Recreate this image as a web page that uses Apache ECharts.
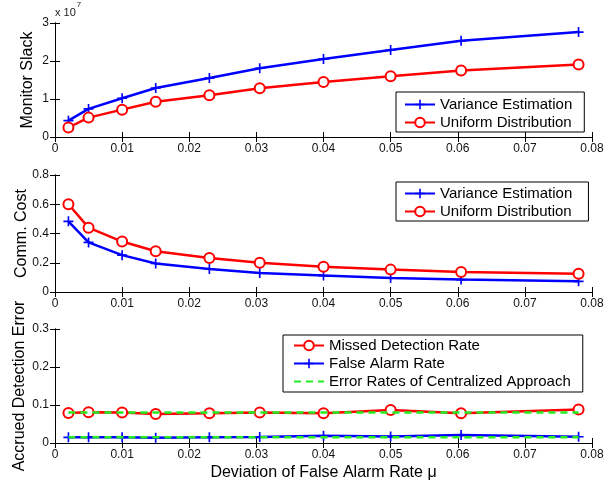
<!DOCTYPE html>
<html><head><meta charset="utf-8">
<script src="https://cdn.jsdelivr.net/npm/echarts@6/dist/echarts.min.js"></script>
<style>html,body{margin:0;padding:0;background:#fff}#c{width:613px;height:482px}</style>
</head><body><div id="c"></div>
<script>
const xVals = [0.002, 0.005, 0.010, 0.015, 0.023, 0.0305, 0.040, 0.050, 0.0605, 0.078];
// Monitor slack in units of 1e7
const slackVariance = [0.43, 0.74, 1.02, 1.29, 1.55, 1.81, 2.05, 2.29, 2.53, 2.76];
const slackUniform  = [0.25, 0.51, 0.72, 0.93, 1.10, 1.28, 1.45, 1.60, 1.75, 1.91];
const costVariance  = [0.483, 0.339, 0.252, 0.195, 0.158, 0.130, 0.112, 0.096, 0.085, 0.073];
const costUniform   = [0.600, 0.440, 0.345, 0.279, 0.233, 0.200, 0.172, 0.153, 0.137, 0.124];
const missedRate    = [0.079, 0.081, 0.080, 0.0765, 0.078, 0.080, 0.078, 0.087, 0.078, 0.088];
const falseAlarm    = [0.015, 0.015, 0.015, 0.014, 0.015, 0.016, 0.019, 0.017, 0.021, 0.0165];
const centralMissed = [0.080, 0.080, 0.080, 0.080, 0.080, 0.080, 0.080, 0.080, 0.080, 0.080];
const centralFalse  = [0.015, 0.015, 0.015, 0.015, 0.015, 0.015, 0.015, 0.015, 0.015, 0.015];
const xTicks = ['0','0.01','0.02','0.03','0.04','0.05','0.06','0.07','0.08'];

const FONT = '"Liberation Sans", Arial, sans-serif';
const BLUE = '#0000ff', RED = '#ff0000', GREEN = '#22ee22';
const PLUS = 'path://M5,0H7V12H5Z M0,5H12V7H0Z';
const pairs = ys => xVals.map((x, i) => [x, ys[i]]);

const grids = [
  {left: 55, right: 21, top: 23, height: 114},
  {left: 55, right: 21, top: 175, height: 117},
  {left: 55, right: 21, top: 329, height: 117}
];
const yCfg = [
  {min: 0, max: 3, interval: 1, name: 'Monitor Slack', gap: 19, fmt: v => String(v)},
  {min: 0, max: 0.8, interval: 0.2, name: 'Comm. Cost', gap: 25, fmt: v => v === 0 ? '0' : v.toFixed(1)},
  {min: 0, max: 0.3, interval: 0.1, name: 'Accrued Detection Error', gap: 27, fmt: v => v === 0 ? '0' : v.toFixed(1)}
];
const tick = {show: true, inside: true, length: 5, lineStyle: {color: '#000', width: 1}};
const aLine = {show: true, lineStyle: {color: '#000', width: 1}};
const xAxis = [], yAxis = [];
grids.forEach((g, i) => {
  xAxis.push({type: 'value', gridIndex: i, min: 0, max: 0.08, interval: 0.01, position: 'bottom',
    axisLine: aLine, axisTick: tick, splitLine: {show: false},
    axisLabel: {color: '#111', fontSize: 12, fontFamily: FONT, margin: 6,
      formatter: v => xTicks[Math.round(v * 100)]},
    name: i === 2 ? 'Deviation of False Alarm Rate μ' : '', nameLocation: 'middle', nameGap: 22,
    nameMoveOverlap: false,
    nameTextStyle: {color: '#000', fontSize: 16, fontFamily: FONT}});
  xAxis.push({type: 'value', gridIndex: i, min: 0, max: 0.08, interval: 0.01, position: 'top',
    axisLine: aLine, axisTick: tick, axisLabel: {show: false}, splitLine: {show: false}});
  const c = yCfg[i];
  yAxis.push({type: 'value', gridIndex: i, min: c.min, max: c.max, interval: c.interval, position: 'left',
    axisLine: aLine, axisTick: tick, splitLine: {show: false},
    axisLabel: {color: '#111', fontSize: 12, fontFamily: FONT, margin: 6, formatter: c.fmt},
    name: c.name, nameLocation: 'middle', nameGap: c.gap, nameMoveOverlap: false,
    nameTextStyle: {color: '#000', fontSize: 16, fontFamily: FONT}});
  yAxis.push({type: 'value', gridIndex: i, min: c.min, max: c.max, interval: c.interval, position: 'right',
    axisLine: aLine, axisTick: tick, axisLabel: {show: false}, splitLine: {show: false}});
});

function lineSeries(name, data, gi, color, kind) {
  const s = {type: 'line', name, data: pairs(data), xAxisIndex: gi * 2, yAxisIndex: gi * 2,
    lineStyle: {color, width: 2.5}, itemStyle: {color}, animation: false, z: 2};
  if (kind === 'plus') {
    s.symbol = PLUS; s.symbolSize = 10; s.itemStyle = {color, borderWidth: 0};
  } else if (kind === 'circle') {
    s.symbol = 'emptyCircle'; s.symbolSize = 10; s.itemStyle = {color, borderColor: color, borderWidth: 2};
  } else {
    s.symbol = 'none'; s.lineStyle = {color, width: 2.5, type: [7, 5]}; s.z = 3;
    s.itemStyle = {color: 'rgba(0,0,0,0)', opacity: 0};
  }
  return s;
}

const legendBase = {orient: 'vertical', backgroundColor: '#fff', borderColor: '#000', borderWidth: 1,
  itemWidth: 30, itemHeight: 12, itemGap: 3,
  textStyle: {color: '#000', fontSize: 15, fontFamily: FONT}};

const option = {
  animation: false,
  backgroundColor: '#fff',
  grid: grids,
  xAxis, yAxis,
  title: {left: 55, top: 1, padding: 0, text: '{a|x 10}{b|7}',
    textStyle: {rich: {a: {fontSize: 11, fontWeight: 'normal', fontFamily: FONT, color: '#222', padding: [6, 0, 0, 0]},
                       b: {fontSize: 8, fontWeight: 'normal', fontFamily: FONT, color: '#222', verticalAlign: 'top', padding: [0, 0, 8, 1]}}}},
  legend: [
    Object.assign({}, legendBase, {left: 396, top: 92, padding: [5, 12, 2, 8],
      data: ['Variance Estimation', 'Uniform Distribution']}),
    Object.assign({}, legendBase, {left: 396, top: 182, padding: [4, 12, 2, 8],
      data: ['Variance Estimation ', 'Uniform Distribution ']}),
    Object.assign({}, legendBase, {left: 283, top: 335, padding: [3, 12, 3, 10],
      data: ['Missed Detection Rate', 'False Alarm Rate',
        {name: 'Error Rates of Centralized Approach', itemStyle: {opacity: 0}}]})
  ],
  series: [
    lineSeries('Variance Estimation', slackVariance, 0, BLUE, 'plus'),
    lineSeries('Uniform Distribution', slackUniform, 0, RED, 'circle'),
    lineSeries('Variance Estimation ', costVariance, 1, BLUE, 'plus'),
    lineSeries('Uniform Distribution ', costUniform, 1, RED, 'circle'),
    lineSeries('Missed Detection Rate', missedRate, 2, RED, 'circle'),
    lineSeries('False Alarm Rate', falseAlarm, 2, BLUE, 'plus'),
    lineSeries('Error Rates of Centralized Approach', centralMissed, 2, GREEN, 'dash'),
    lineSeries('Error Rates of Centralized Approach', centralFalse, 2, GREEN, 'dash')
  ]
};
const chart = echarts.init(document.getElementById('c'), null, {renderer: 'canvas'});
chart.setOption(option);
</script></body></html>
